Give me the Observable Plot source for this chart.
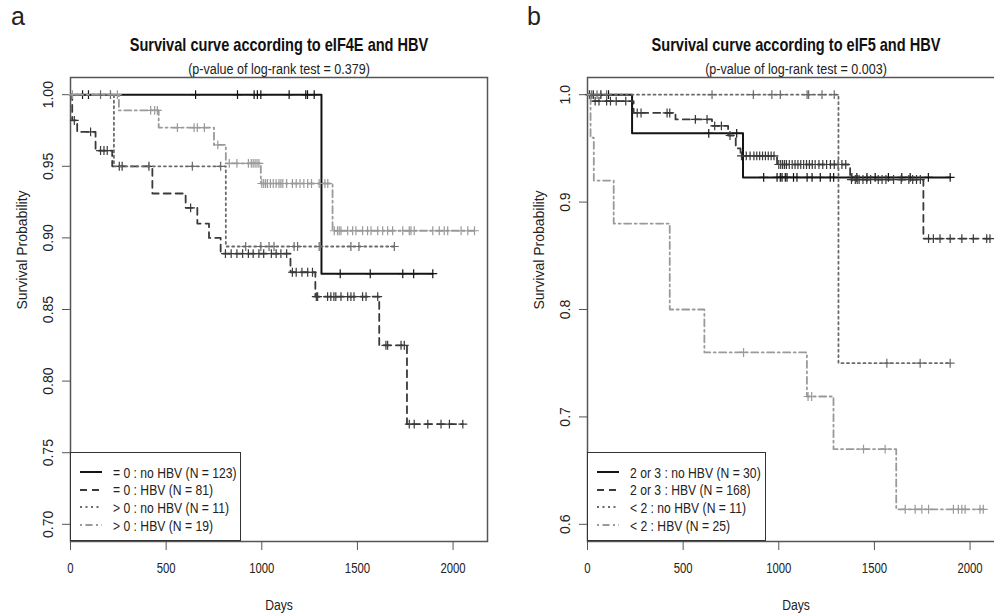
<!DOCTYPE html>
<html>
<head>
<meta charset="utf-8">
<script src="https://cdn.jsdelivr.net/npm/d3@7"></script>
<script src="https://cdn.jsdelivr.net/npm/@observablehq/plot@0.6"></script>
<style>
  html, body { margin: 0; padding: 0; background: #fff; overflow: hidden; }
  #fig { position: relative; width: 994px; height: 615px; overflow: hidden; background: #fff;
         font-family: "Liberation Sans", Arial, sans-serif; color: #222; }
  .panel { position: absolute; top: 0; }
  .tag { position: absolute; top: 4px; font-size: 25px; line-height: 1; color: #222; }
  .legend { position: absolute; background: #fff; border: 1.5px solid #333; box-sizing: border-box; }
  .legend .row { position: absolute; left: 0; height: 18px; display: flex; align-items: center;
                 font-size: 15px; white-space: nowrap; }
  .legend svg { display: block; margin-left: 9px; margin-right: 11px; flex: none; }
  .legend span { display: inline-block; transform: scaleX(0.81); transform-origin: 0 50%; }
</style>
</head>
<body>
<div id="fig"></div>
<script>
// ---- Panel a: eIF4E x HBV ----
const aTitle = "Survival curve according to eIF4E and HBV";
const aSubtitle = "(p-value of log-rank test = 0.379)";
const aLabels = ["= 0 : no HBV (N = 123)", "= 0 : HBV (N = 81)", "> 0 : no HBV (N = 11)", "> 0 : HBV (N = 19)"];

const aEq0NoHbvTime = [0, 1312, 1894];
const aEq0NoHbvSurv = [1, 0.875, 0.875];
const aEq0NoHbvCens = [63, 94, 654, 873, 960, 977, 995, 1143, 1230, 1239, 1274, 1410, 1567, 1737, 1794, 1894];

const aEq0HbvTime = [0, 9, 35, 131, 218, 428, 602, 663, 724, 785, 1150, 1280, 1614, 1759, 2051];
const aEq0HbvSurv = [1, 0.982, 0.974, 0.961, 0.950, 0.931, 0.921, 0.910, 0.900, 0.889, 0.876, 0.859, 0.825, 0.770, 0.770];
const aEq0HbvCens = [20, 105, 157, 175, 192, 255, 270, 410, 628, 810, 840, 870, 900, 930, 955, 985, 1010, 1050, 1075,
  1100, 1130, 1160, 1180, 1210, 1240, 1265, 1285, 1292, 1344, 1361, 1377, 1387, 1414, 1449, 1466, 1482, 1527, 1545,
  1606, 1649, 1658, 1728, 1745, 1771, 1797, 1868, 1937, 1981, 2051];

const aGt0NoHbvTime = [0, 227, 812, 1693];
const aGt0NoHbvSurv = [1, 0.950, 0.894, 0.894];
const aGt0NoHbvCens = [157, 209, 637, 785, 916, 995, 1038, 1064, 1169, 1187, 1300, 1466, 1508, 1693];

const aGt0HbvTime = [0, 253, 461, 750, 812, 995, 1370, 2112];
const aGt0HbvSurv = [1, 0.989, 0.977, 0.965, 0.952, 0.938, 0.905, 0.905];
const aGt0HbvCens = [10, 245, 419, 440, 454, 559, 646, 663, 700, 770, 830, 870, 930, 945, 955, 965, 975, 985, 1000,
  1010, 1020, 1030, 1045, 1060, 1075, 1090, 1100, 1110, 1130, 1160, 1180, 1200, 1220, 1240, 1260, 1300, 1330, 1345,
  1379, 1396, 1405, 1414, 1449, 1475, 1492, 1527, 1553, 1571, 1606, 1632, 1658, 1684, 1737, 1771, 1780, 1797, 1894,
  1928, 1954, 1972, 2042, 2077, 2112];

const aYTicks = [0.70, 0.75, 0.80, 0.85, 0.90, 0.95, 1.00];

// ---- Panel b: eIF5 x HBV ----
const bTitle = "Survival curve according to eIF5 and HBV";
const bSubtitle = "(p-value of log-rank test = 0.003)";
const bLabels = ["2 or 3 : no HBV (N = 30)", "2 or 3 : HBV (N = 168)", "< 2 : no HBV (N = 11)", "< 2 : HBV (N = 25)"];

const bHiNoHbvTime = [0, 233, 813, 1896];
const bHiNoHbvSurv = [1, 0.964, 0.923, 0.923];
const bHiNoHbvCens = [30, 70, 110, 634, 780, 921, 991, 1008, 1017, 1034, 1043, 1077, 1095, 1148, 1174, 1217, 1269,
  1287, 1382, 1408, 1461, 1504, 1573, 1643, 1687, 1782, 1896];

const bHiHbvTime = [0, 20, 241, 460, 651, 735, 775, 800, 991, 1373, 1756, 2104];
const bHiHbvSurv = [1, 0.994, 0.983, 0.977, 0.971, 0.962, 0.950, 0.943, 0.935, 0.921, 0.866, 0.866];
const bHiHbvCens = [10, 40, 60, 100, 120, 150, 200, 260, 280, 416, 430, 564, 625, 665, 700, 745, 805, 830, 850, 870,
  885, 900, 915, 930, 945, 960, 975, 1000, 1010, 1020, 1030, 1040, 1055, 1070, 1085, 1100, 1115, 1130, 1145, 1160,
  1175, 1190, 1210, 1230, 1250, 1270, 1290, 1310, 1330, 1350, 1380, 1400, 1410, 1420, 1440, 1460, 1480, 1520, 1540,
  1560, 1600, 1640, 1680, 1700, 1720, 1740, 1783, 1808, 1843, 1896, 1957, 2017, 2087, 2104];

const bLoNoHbvTime = [0, 1312, 1896];
const bLoNoHbvSurv = [1, 0.75, 0.75];
const bLoNoHbvCens = [20, 50, 100, 651, 867, 964, 1008, 1148, 1156, 1226, 1290, 1565, 1739, 1896];

const bLoHbvTime = [0, 16, 33, 137, 430, 611, 1147, 1286, 1614, 2069];
const bLoHbvSurv = [1, 0.96, 0.92, 0.88, 0.80, 0.76, 0.719, 0.670, 0.614, 0.614];
const bLoHbvCens = [816, 1153, 1172, 1443, 1556, 1661, 1713, 1748, 1783, 1913, 1939, 1957, 1974, 2052, 2069];

const bYTicks = [0.6, 0.7, 0.8, 0.9, 1.0];

const xTicks = [0, 500, 1000, 1500, 2000];

// line styles: solid, dashed, dotted, dot-dash (R lty 1..4)
const lineStyles = [
  {stroke: "#141414", width: 2.0, dash: null},
  {stroke: "#3a3a3a", width: 1.8, dash: "7,5"},
  {stroke: "#6a6a6a", width: 1.8, dash: "2,3.5"},
  {stroke: "#9a9a9a", width: 1.8, dash: "2,3.5,7,3.5"}
];

const FONT = '"Liberation Sans", Arial, sans-serif';
const CONDENSE = 0.81;   // horizontal text is set condensed

// "+" censoring symbol, stroked only
const plusSymbol = {
  draw(ctx, size) {
    const r = Math.sqrt(size) / 2;
    ctx.moveTo(-r, 0); ctx.lineTo(r, 0);
    ctx.moveTo(0, -r); ctx.lineTo(0, r);
  }
};

// Kaplan-Meier step value at time t
function survAt(times, survs, t) {
  let s = survs[0];
  for (let i = 0; i < times.length; i++) if (times[i] <= t) s = survs[i];
  return s;
}

function makeGroup(times, survs, cens) {
  return {
    steps: times.map((t, i) => ({t, s: survs[i]})),
    cens: cens.map(t => ({t, s: survAt(times, survs, t)}))
  };
}

// narrow every non-rotated text element around its own anchor
function condense(svg, k) {
  svg.querySelectorAll("text").forEach(el => {
    const t = el.getAttribute("transform") || "";
    if (/rotate/.test(t)) return;
    const x = +(el.getAttribute("x") || 0);
    el.setAttribute("transform", `${t} translate(${x},0) scale(${k},1) translate(${-x},0)`);
  });
  return svg;
}

function panel({width, marginLeft, marginRight, yDomain, yTicks, yFmt, title, subtitle, groups}) {
  const marks = [
    Plot.frame({stroke: "#555", strokeWidth: 1.5}),
    Plot.axisX({ticks: xTicks, tickSize: 9, tickPadding: 13, tickFormat: d3.format("d"),
                label: null, stroke: "#555", fontSize: 14, fontFamily: FONT, fill: "#222"}),
    Plot.axisY({ticks: yTicks, tickSize: 8, tickFormat: () => "", label: null, stroke: "#555"}),
    Plot.text(yTicks, {y: d => d, text: yFmt, frameAnchor: "left", dx: -22, rotate: -90,
                       textAnchor: "middle", fontFamily: FONT, fontSize: 14, fill: "#222"})
  ];
  groups.forEach((g, i) => {
    const st = lineStyles[i];
    marks.push(Plot.line(g.steps, {x: "t", y: "s", curve: "step-after", stroke: st.stroke,
      strokeWidth: st.width, strokeDasharray: st.dash}));
    marks.push(Plot.dot(g.cens, {x: "t", y: "s", symbol: plusSymbol, r: 5, fill: "none",
      stroke: st.stroke, strokeWidth: 1.2}));
  });
  marks.push(
    Plot.text([title], {text: d => d, frameAnchor: "top", lineAnchor: "middle", dy: -32,
      fontWeight: "bold", fontSize: 18, fontFamily: FONT, fill: "#111"}),
    Plot.text([subtitle], {text: d => d, frameAnchor: "top", lineAnchor: "middle", dy: -8,
      fontSize: 15.5, fontFamily: FONT, fill: "#222"}),
    Plot.text(["Days"], {text: d => d, frameAnchor: "bottom", lineAnchor: "middle", dy: 64,
      fontSize: 15, fontFamily: FONT, fill: "#222"}),
    Plot.text(["Survival Probability"], {text: d => d, frameAnchor: "left", lineAnchor: "middle", dx: -48,
      rotate: -90, fontFamily: FONT, fontSize: 14, fill: "#222"})
  );
  const svg = Plot.plot({
    width, height: 615, marginLeft, marginRight, marginTop: 77, marginBottom: 74,
    x: {domain: [0, 2180]},
    y: {domain: yDomain},
    style: {fontFamily: FONT, fontSize: "14px", color: "#222", background: "white", maxWidth: "none"},
    marks
  });
  return condense(svg, CONDENSE);
}

function legend(labels, left, width) {
  const box = document.createElement("div");
  box.className = "legend";
  Object.assign(box.style, {left: left + "px", top: "452px", width: width + "px", height: "89px"});
  labels.forEach((lab, i) => {
    const st = lineStyles[i];
    const row = document.createElement("div");
    row.className = "row";
    row.style.top = (10 + i * 17.7) + "px";
    row.innerHTML = `<svg width="22" height="6"><line x1="0" x2="22" y1="3" y2="3" stroke="${st.stroke}"
      stroke-width="${st.width}" ${st.dash ? `stroke-dasharray="${st.dash}"` : ""}/></svg><span>${lab}</span>`;
    box.appendChild(row);
  });
  return box;
}

const fig = document.getElementById("fig");

const aGroups = [
  makeGroup(aEq0NoHbvTime, aEq0NoHbvSurv, aEq0NoHbvCens),
  makeGroup(aEq0HbvTime, aEq0HbvSurv, aEq0HbvCens),
  makeGroup(aGt0NoHbvTime, aGt0NoHbvSurv, aGt0NoHbvCens),
  makeGroup(aGt0HbvTime, aGt0HbvSurv, aGt0HbvCens)
];
const bGroups = [
  makeGroup(bHiNoHbvTime, bHiNoHbvSurv, bHiNoHbvCens),
  makeGroup(bHiHbvTime, bHiHbvSurv, bHiHbvCens),
  makeGroup(bLoNoHbvTime, bLoNoHbvSurv, bLoNoHbvCens),
  makeGroup(bLoHbvTime, bLoHbvSurv, bLoHbvCens)
];

const pa = document.createElement("div");
pa.className = "panel"; pa.style.left = "0px"; pa.style.width = "497px";
pa.appendChild(panel({width: 497, marginLeft: 70, marginRight: 10, yDomain: [0.688, 1.012],
  yTicks: aYTicks, yFmt: d3.format(".2f"), title: aTitle, subtitle: aSubtitle, groups: aGroups}));
fig.appendChild(pa);

const pb = document.createElement("div");
pb.className = "panel"; pb.style.left = "497px"; pb.style.width = "520px";
pb.appendChild(panel({width: 520, marginLeft: 90, marginRight: 13, yDomain: [0.584, 1.016],
  yTicks: bYTicks, yFmt: d3.format(".1f"), title: bTitle, subtitle: bSubtitle, groups: bGroups}));
fig.appendChild(pb);

fig.appendChild(legend(aLabels, 70, 171));
fig.appendChild(legend(bLabels, 587, 179));

const ta = document.createElement("div");
ta.className = "tag"; ta.style.left = "11px"; ta.textContent = "a";
fig.appendChild(ta);
const tb = document.createElement("div");
tb.className = "tag"; tb.style.left = "527px"; tb.textContent = "b";
fig.appendChild(tb);
</script>
</body>
</html>
